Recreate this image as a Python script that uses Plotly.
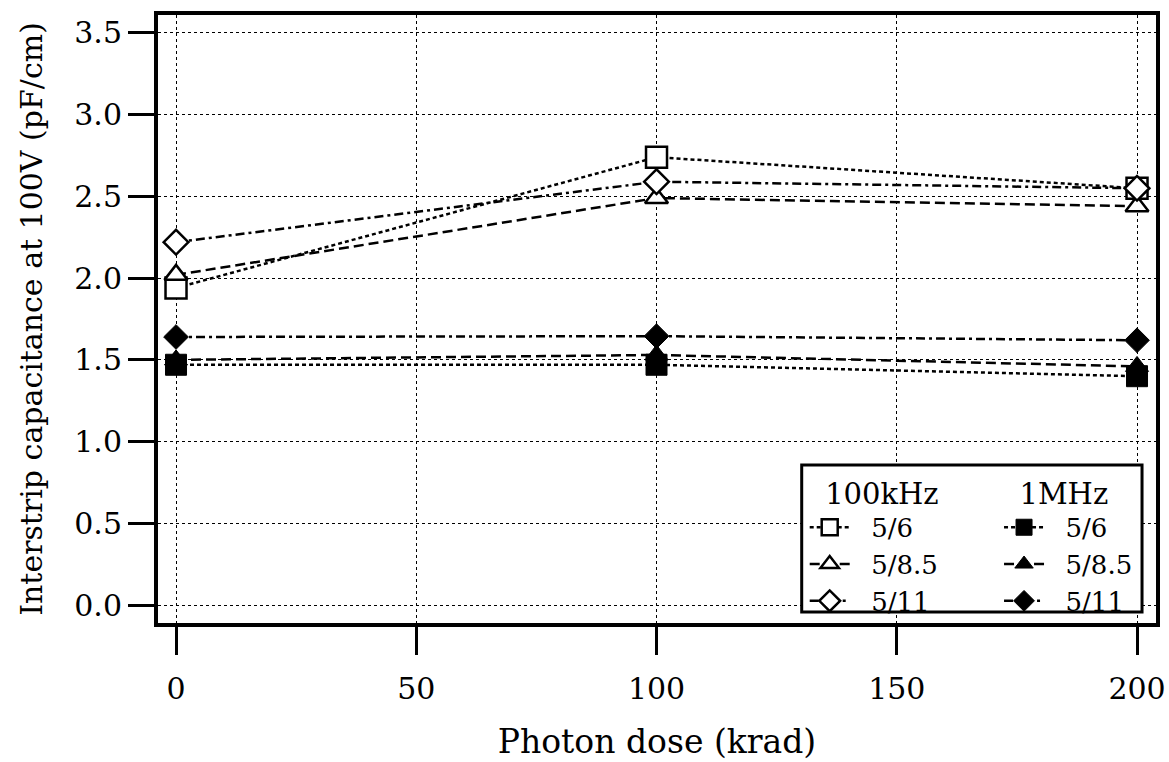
import plotly.graph_objects as go

dose = [0, 100, 200]
k100_5_6 = [1.94, 2.74, 2.55]
k100_5_85 = [2.02, 2.49, 2.44]
k100_5_11 = [2.22, 2.59, 2.55]
m1_5_6 = [1.47, 1.47, 1.40]
m1_5_85 = [1.50, 1.53, 1.46]
m1_5_11 = [1.64, 1.645, 1.62]

labels = ["5/6", "5/8.5", "5/11"]
xticks = [0, 50, 100, 150, 200]
yticks = [0.0, 0.5, 1.0, 1.5, 2.0, 2.5, 3.0, 3.5]

FONT = "DejaVu Serif"
dashes = ["4px,3px", "10px,5px", "9px,4px,3px,4px"]
fill_sym = ["square", "triangle-up", "diamond"]
sizes = [21, 20, 19]
PAD = "&nbsp;&nbsp;"

fig = go.Figure()
for i, ys in enumerate([k100_5_6, k100_5_85, k100_5_11]):
    fig.add_trace(go.Scatter(
        x=dose, y=ys, mode="lines+markers", name=PAD + labels[i], legend="legend",
        line=dict(color="black", width=2.5, dash=dashes[i]),
        marker=dict(symbol=fill_sym[i], size=sizes[i], color="white",
                    line=dict(color="black", width=2.5)),
    ))
for i, ys in enumerate([m1_5_6, m1_5_85, m1_5_11]):
    fig.add_trace(go.Scatter(
        x=dose, y=ys, mode="lines+markers", name=PAD + labels[i], legend="legend2",
        line=dict(color="black", width=2.5, dash=dashes[i]),
        marker=dict(symbol=fill_sym[i], size=sizes[i], color="black",
                    line=dict(color="black", width=1)),
    ))

axis_common = dict(
    showline=True, linecolor="black", linewidth=4, mirror=True,
    ticks="outside", tickcolor="black", tickwidth=3, automargin=False,
    showgrid=True, gridcolor="black", gridwidth=1.2, griddash="dot",
    zeroline=False, tickfont=dict(family=FONT, size=30, color="black"),
)

fig.update_layout(
    width=1169, height=762,
    margin=dict(l=158, r=13, t=15, b=139),
    paper_bgcolor="white", plot_bgcolor="white",
    font=dict(family=FONT, color="black"),
    xaxis=dict(range=[-3.75, 203.95], tickvals=xticks, ticklen=28, ticklabelstandoff=8,
               title=dict(text="Photon dose (krad)", font=dict(family=FONT, size=33), standoff=26),
               **axis_common),
    yaxis=dict(range=[-0.11, 3.61], tickvals=yticks, tickformat=".1f", ticklen=26,
               title=dict(text="Interstrip capacitance at 100V (pF/cm)", font=dict(family=FONT, size=30), standoff=24),
               **axis_common),
    legend=dict(x=0.648, y=0.258, xanchor="left", yanchor="top",
                title=dict(text=PAD + "100kHz", font=dict(family=FONT, size=29), side="top"),
                font=dict(family=FONT, size=26), bgcolor="rgba(0,0,0,0)",
                tracegroupgap=0, itemwidth=40),
    legend2=dict(x=0.982, y=0.258, xanchor="right", yanchor="top",
                 title=dict(text=PAD + "1MHz", font=dict(family=FONT, size=29), side="top"),
                 font=dict(family=FONT, size=26), bgcolor="rgba(0,0,0,0)",
                 tracegroupgap=0, itemwidth=40),
    shapes=[dict(type="rect", xref="paper", yref="paper",
                 x0=0.645, x1=0.986, y0=0.018, y1=0.26,
                 line=dict(color="black", width=3), fillcolor="white", layer="above")],
)

fig.write_html("out.html")
